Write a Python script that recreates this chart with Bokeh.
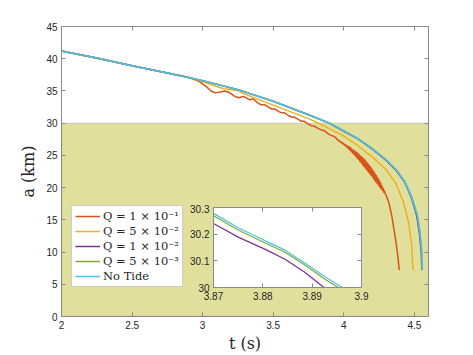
from bokeh.plotting import figure
from bokeh.models import (LinearAxis, BoxAnnotation, Range1d, Legend, LegendItem,
                          FixedTicker)
from bokeh.layouts import column
from bokeh.embed import file_html
from bokeh.resources import INLINE

# ---------------- data ----------------
t_notide = [2.0, 2.25, 2.5, 2.75, 3.0, 3.25, 3.5, 3.75, 3.9, 4.0, 4.1, 4.2, 4.3,
            4.37, 4.43, 4.48, 4.52, 4.54, 4.552, 4.557]
a_notide = [41.2, 40.1, 38.9, 37.8, 36.6, 35.2, 33.4, 31.3, 30.0, 28.8, 27.6, 26.1, 24.3,
            22.8, 21.0, 18.6, 15.8, 13.0, 10.2, 7.2]

t_q5e3 = [2.0, 2.25, 2.5, 2.75, 3.0, 3.25, 3.5, 3.75, 3.9, 4.0, 4.1, 4.2, 4.3,
          4.37, 4.43, 4.48, 4.52, 4.54, 4.551, 4.556]
a_q5e3 = [41.2, 40.1, 38.9, 37.8, 36.6, 35.2, 33.4, 31.3, 29.99, 28.8, 27.6, 26.1, 24.3,
          22.8, 21.0, 18.6, 15.8, 13.0, 10.2, 7.2]

t_q1e2 = [2.0, 2.25, 2.5, 2.75, 3.0, 3.25, 3.5, 3.75, 3.9, 4.0, 4.1, 4.2, 4.3,
          4.37, 4.43, 4.48, 4.515, 4.535, 4.548, 4.553]
a_q1e2 = [41.2, 40.1, 38.9, 37.8, 36.6, 35.2, 33.4, 31.3, 29.96, 28.75, 27.55, 26.0, 24.2,
          22.7, 20.9, 18.4, 15.8, 13.0, 10.2, 7.2]

t_q5e2 = [2.0, 2.5, 2.75, 2.9, 3.0, 3.1, 3.15, 3.2, 3.25, 3.3, 3.5, 3.75, 3.82, 4.0,
          4.1, 4.2, 4.3, 4.37, 4.42, 4.46, 4.48, 4.49]
a_q5e2 = [41.2, 38.9, 37.8, 37.1, 36.45, 35.7, 35.35, 35.2, 35.05, 34.5, 32.8, 30.7, 30.0, 28.0,
          26.5, 24.8, 22.8, 20.6, 17.9, 14.5, 11.2, 7.2]

t_q1e1 = [2.0, 2.25, 2.5, 2.75, 2.85, 2.91, 2.98, 3.03, 3.06, 3.09, 3.12, 3.155, 3.19,
          3.225, 3.255, 3.29, 3.33, 3.36, 3.39, 3.415, 3.44, 3.47, 3.49, 3.51, 3.54,
          3.56, 3.58, 3.61, 3.63, 3.65, 3.68, 3.70, 3.72, 3.75, 3.77, 3.79, 3.82, 3.84,
          3.86, 3.89, 3.91, 3.93,
          3.95, 3.955, 3.96, 3.965, 3.97, 3.975, 3.98, 3.985, 3.99, 3.995, 4.00, 4.005,
          4.01, 4.015, 4.02, 4.025, 4.03, 4.035, 4.04, 4.045, 4.05, 4.055, 4.06, 4.065,
          4.07, 4.075, 4.08, 4.085, 4.09, 4.095, 4.10, 4.105, 4.11, 4.115, 4.12, 4.125,
          4.13, 4.135, 4.14, 4.145, 4.15, 4.155, 4.16, 4.165, 4.17, 4.175, 4.18, 4.185,
          4.19, 4.195, 4.20, 4.205, 4.21, 4.215, 4.22, 4.225, 4.23, 4.235, 4.24, 4.245,
          4.25, 4.255, 4.26, 4.265, 4.27, 4.275, 4.28, 4.285, 4.29, 4.295, 4.30,
          4.32, 4.34, 4.355, 4.365, 4.375, 4.385, 4.393]
a_q1e1 = [41.2, 40.1, 38.9, 37.8, 37.35, 37.05, 36.4, 35.6, 35.0, 34.7, 34.8, 35.0, 34.75,
          34.2, 33.95, 34.15, 33.65, 33.75, 33.15, 32.85, 32.85, 32.45, 32.2, 32.2, 31.8,
          31.6, 31.6, 31.15, 30.95, 30.95, 30.55, 30.3, 30.28, 29.85, 29.6, 29.55, 29.15, 28.95,
          28.85, 28.35, 28.1, 27.95,
          27.58, 27.35, 27.43, 27.2, 27.3, 27.05, 27.15, 26.88, 27.02, 26.72, 26.87, 26.55,
          26.74, 26.35, 26.6, 26.15, 26.47, 25.95, 26.35, 25.72, 26.2, 25.48, 26.02, 25.25,
          25.87, 25.0, 25.7, 24.78, 25.54, 24.5, 25.38, 24.25, 25.18, 23.98, 24.98, 23.7,
          24.79, 23.4, 24.58, 23.15, 24.35, 22.9, 24.1, 22.6, 23.83, 22.3, 23.55, 22.05,
          23.26, 21.78, 22.95, 21.5, 22.63, 21.15, 22.3, 20.85, 21.94, 20.6, 21.6, 20.3,
          21.25, 20.0, 20.85, 19.7, 20.36, 19.5, 19.95, 19.2, 19.47, 18.95, 18.8,
          17.6, 15.6, 13.6, 12.2, 10.7, 8.9, 7.2]

# inset (zoom near t = 3.87 ... 3.9)
in_t_notide = [3.87, 3.8751, 3.8805, 3.8845, 3.8885, 3.8926, 3.8961]
in_a_notide = [30.278, 30.223, 30.175, 30.140, 30.092, 30.040, 30.0]
in_t_q5e3 = [3.87, 3.8751, 3.8805, 3.8845, 3.8885, 3.8926, 3.8953]
in_a_q5e3 = [30.269, 30.215, 30.167, 30.132, 30.084, 30.031, 30.0]
in_t_q1e2 = [3.87, 3.8751, 3.8805, 3.8845, 3.8885, 3.8924]
in_a_q1e2 = [30.240, 30.188, 30.143, 30.106, 30.057, 30.0]

shade_top = 30
x_ticks = [2, 2.5, 3, 3.5, 4, 4.5]
x_tick_labels = ["2", "2.5", "3", "3.5", "4", "4.5"]
y_ticks = [0, 5, 10, 15, 20, 25, 30, 35, 40, 45]
in_x_ticks = [3.87, 3.88, 3.89, 3.9]
in_x_labels = ["3.87", "3.88", "3.89", "3.9"]
in_y_ticks = [30, 30.1, 30.2, 30.3]
in_y_labels = ["30", "30.1", "30.2", "30.3"]

labels = ["Q = 1 × 10⁻¹", "Q = 5 × 10⁻²", "Q = 1 × 10⁻²", "Q = 5 × 10⁻³", "No Tide"]
colors = ["#D95319", "#EDB120", "#7E2F8E", "#77AC30", "#4DBEEE"]

AX = "#8a8a8a"
TXT = "#262626"
SANS = "Liberation Sans"
SERIF = "DejaVu Serif"
BORDER_L, BORDER_R = 61, 37


def style_axis(ax, ticks, show_labels=True):
    ax.ticker = FixedTicker(ticks=ticks)
    ax.axis_line_color = AX
    ax.major_tick_line_color = AX
    ax.minor_tick_line_color = None
    ax.major_tick_in = 4
    ax.major_tick_out = 0
    ax.major_label_text_font = SANS
    ax.major_label_text_color = TXT
    ax.major_label_text_font_size = "10px"
    ax.major_label_standoff = 4 if show_labels else 0
    if not show_labels:
        ax.major_label_overrides = {t: "" for t in ticks}


# ---------------- main figure ----------------
p = figure(frame_width=367, frame_height=290, output_backend="svg", toolbar_location=None,
           x_range=Range1d(2, 4.6), y_range=Range1d(0, 45),
           min_border_left=BORDER_L, min_border_right=BORDER_R, min_border_top=26,
           min_border_bottom=37,
           background_fill_color="white", border_fill_color="white")
p.grid.visible = False
p.outline_line_color = AX

style_axis(p.xaxis[0], x_ticks)
style_axis(p.yaxis[0], y_ticks)
p.xaxis.major_label_overrides = {t: s for t, s in zip(x_ticks, x_tick_labels)}
p.xaxis.axis_label = "t (s)"
p.yaxis.axis_label = "a (km)"
for ax in (p.xaxis[0], p.yaxis[0]):
    ax.axis_label_text_font = SERIF
    ax.axis_label_text_font_style = "normal"
    ax.axis_label_text_font_size = "16px"
    ax.axis_label_text_color = TXT
p.xaxis.axis_label_standoff = 2
p.yaxis.axis_label_standoff = 5

top_ax = LinearAxis()
style_axis(top_ax, x_ticks, False)
p.add_layout(top_ax, "above")
right_ax = LinearAxis()
style_axis(right_ax, y_ticks, False)
p.add_layout(right_ax, "right")

shade = BoxAnnotation(top=shade_top, fill_color="#E0E09C", fill_alpha=1.0,
                      line_color="#9a9a9a", line_width=1.5, level="underlay")
p.add_layout(shade)

series = [(t_q1e1, a_q1e1), (t_q5e2, a_q5e2), (t_q1e2, a_q1e2), (t_q5e3, a_q5e3), (t_notide, a_notide)]
renderers = []
for (tt, aa), c in zip(series, colors):
    renderers.append(p.line(tt, aa, line_color=c, line_width=1.5))

legend = Legend(items=[LegendItem(label=l, renderers=[r]) for l, r in zip(labels, renderers)],
                location=(10, 29), label_text_font=SERIF, label_text_font_size="11.5px",
                label_text_color=TXT, glyph_width=25, glyph_height=14, label_height=14,
                spacing=1, padding=3, margin=0, label_standoff=3,
                border_line_color="#9a9a9a", background_fill_color="white",
                background_fill_alpha=1.0)
p.add_layout(legend)

# ---------------- inset figure ----------------
# (a column aligns the side borders of its plots, so the inset uses the same ones,
#  left transparent)
q = figure(frame_width=148, frame_height=80, output_backend="svg", toolbar_location=None,
           x_range=Range1d(3.87, 3.9), y_range=Range1d(30, 30.3),
           min_border_left=BORDER_L, min_border_right=BORDER_R, min_border_top=3,
           min_border_bottom=18,
           background_fill_color="white", border_fill_alpha=0.0)
q.grid.visible = False
q.outline_line_color = AX
style_axis(q.xaxis[0], in_x_ticks)
style_axis(q.yaxis[0], in_y_ticks)
q.xaxis.major_label_overrides = {t: s for t, s in zip(in_x_ticks, in_x_labels)}
q.yaxis.major_label_overrides = {t: s for t, s in zip(in_y_ticks, in_y_labels)}
q_top = LinearAxis()
style_axis(q_top, in_x_ticks, False)
q.add_layout(q_top, "above")
q_right = LinearAxis()
style_axis(q_right, in_y_ticks, False)
q.add_layout(q_right, "right")

q.line(in_t_q1e2, in_a_q1e2, line_color=colors[2], line_width=1.2)
q.line(in_t_q5e3, in_a_q5e3, line_color=colors[3], line_width=1.2)
q.line(in_t_notide, in_a_notide, line_color=colors[4], line_width=1.2)

q.styles = {"position": "absolute", "left": "152px", "top": "204px", "z-index": "5"}

layout = column(p, q)
open("out.html", "w").write(file_html(layout, INLINE))
